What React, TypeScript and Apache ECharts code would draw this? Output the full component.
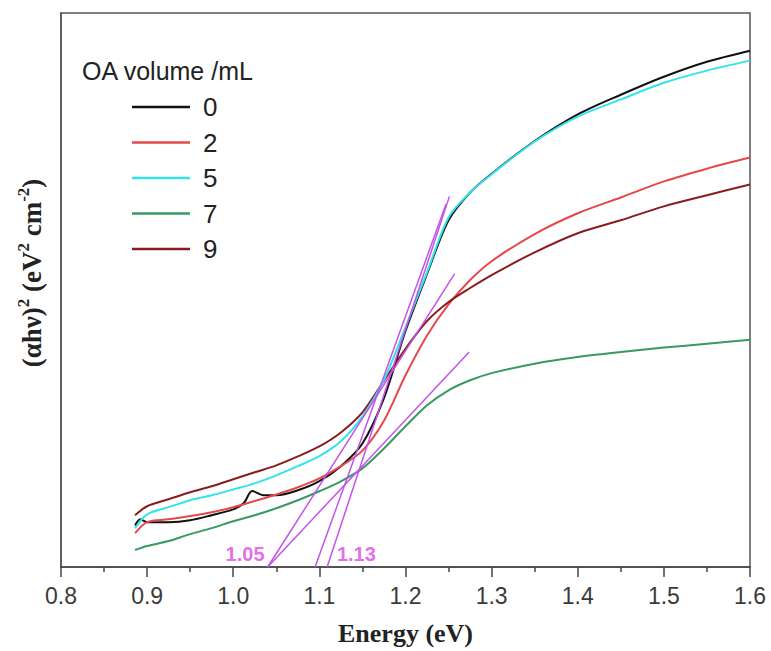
import React, { useEffect, useRef } from "react";
import * as echarts from "echarts";

// Energy grid (eV)
const ENERGY = [0.886, 0.9, 0.925, 0.95, 0.975, 1.0, 1.025, 1.05, 1.075, 1.1, 1.125, 1.15, 1.175, 1.2, 1.225, 1.25, 1.275, 1.3, 1.35, 1.4, 1.45, 1.5, 1.55, 1.6];
const ENERGY_0 = [0.886, 0.892, 0.9, 0.925, 0.95, 0.975, 1.0, 1.012, 1.022, 1.035, 1.05, 1.075, 1.1, 1.125, 1.15, 1.175, 1.2, 1.225, 1.25, 1.275, 1.3, 1.35, 1.4, 1.45, 1.5, 1.55, 1.6];

// (αhν)^2 values, arbitrary units
const OA_0 = [7.5, 8.6, 8.1, 8.1, 8.45, 9.35, 10.4, 11.5, 13.7, 12.95, 12.95, 13.85, 15.5, 18.2, 22.3, 30.5, 42.6, 52.9, 62.6, 67.6, 71.0, 76.9, 81.7, 85.25, 88.5, 91.2, 93.2];
const OA_2 = [6.1, 8.1, 8.6, 9.2, 9.9, 10.8, 11.9, 13.1, 14.4, 16.0, 18.2, 21.0, 26.4, 34.6, 41.8, 47.4, 51.8, 55.2, 60.1, 63.85, 66.7, 69.6, 71.9, 73.9];
const OA_5 = [7.0, 9.5, 10.8, 12.05, 12.95, 14.0, 15.1, 16.55, 18.2, 20.0, 22.7, 27.2, 33.8, 43.3, 53.2, 63.1, 67.6, 70.9, 76.8, 81.3, 84.4, 87.4, 89.6, 91.4];
const OA_7 = [3.06, 3.78, 4.68, 5.94, 7.01, 8.27, 9.35, 10.61, 12.05, 13.67, 15.47, 17.81, 21.4, 25.4, 29.2, 31.9, 33.7, 35.0, 36.7, 37.9, 38.8, 39.6, 40.3, 41.0];
const OA_9 = [9.35, 10.97, 12.23, 13.49, 14.57, 15.83, 17.09, 18.35, 19.96, 21.76, 24.28, 27.9, 33.63, 39.4, 44.4, 47.84, 50.36, 52.7, 56.8, 60.25, 62.6, 65.1, 67.1, 69.06];

// Tangent (Tauc) lines: [E start, y start, E end, y end]
const TANGENTS = [
  [1.095, 0, 1.247, 65.5],
  [1.109, 0, 1.251, 66.9],
  [1.04, 0, 1.257, 52.9],
  [1.04, 0, 1.274, 38.8],
];
const GAP_LABELS = [
  { text: "1.05", e: 1.0137, y: 2.4 },
  { text: "1.13", e: 1.143, y: 2.4 },
];

const X_TICKS = [0.8, 0.9, 1.0, 1.1, 1.2, 1.3, 1.4, 1.5, 1.6];
const LEGEND_NAMES = ["0", "2", "5", "7", "9"];

const COLORS: Record<string, string> = {
  "0": "#111111",
  "2": "#e4484b",
  "5": "#33e3ea",
  "7": "#379a63",
  "9": "#8a1c1e",
};

const SANS = '"Liberation Sans", Arial, sans-serif';
const SERIF = '"Liberation Serif", "Times New Roman", serif';

const zip = (xs: number[], ys: number[]) => xs.map((x, i) => [x, ys[i]]);

export default function App() {
  const ref = useRef<HTMLDivElement>(null);

  useEffect(() => {
    if (!ref.current) return;
    const chart = echarts.init(ref.current, undefined, { renderer: "svg" });

    const dataSeries = [
      { name: "0", data: zip(ENERGY_0, OA_0) },
      { name: "2", data: zip(ENERGY, OA_2) },
      { name: "9", data: zip(ENERGY, OA_9) },
      { name: "7", data: zip(ENERGY, OA_7) },
      { name: "5", data: zip(ENERGY, OA_5) },
    ].map((s) => ({
      type: "line",
      name: s.name,
      data: s.data,
      symbol: "none",
      smooth: 0.3,
      lineStyle: { color: COLORS[s.name], width: 2 },
      itemStyle: { color: COLORS[s.name] },
      z: 2,
    }));

    const tangentSeries = TANGENTS.map((t, i) => ({
      type: "line",
      name: "tangent" + i,
      data: [
        [t[0], t[1]],
        [t[2], t[3]],
      ],
      symbol: "none",
      lineStyle: { color: "#c452ec", width: 1.5 },
      z: 3,
      silent: true,
    }));

    const labelSeries = {
      type: "scatter",
      name: "gaps",
      symbolSize: 0,
      data: GAP_LABELS.map((g) => ({ value: [g.e, g.y], name: g.text })),
      label: {
        show: true,
        position: "inside",
        formatter: (p: any) => p.name,
        color: "#e046e0",
        fontSize: 20,
        fontWeight: "bold",
        fontFamily: SANS,
      },
      z: 4,
      silent: true,
    };

    chart.setOption({
      animation: false,
      backgroundColor: "#ffffff",
      grid: {
        left: 61,
        right: 21,
        top: 13,
        bottom: 82,
        show: true,
        borderColor: "#555555",
        borderWidth: 1.5,
        containLabel: false,
      },
      legend: {
        data: LEGEND_NAMES,
        orient: "vertical",
        left: 132,
        top: 94,
        padding: 0,
        icon: "rect",
        itemWidth: 58,
        itemHeight: 2.5,
        itemGap: 9.5,
        textStyle: {
          fontSize: 26,
          lineHeight: 26,
          color: "#222222",
          fontFamily: SANS,
          padding: [0, 0, 0, 8],
        },
        selectedMode: false,
      },
      graphic: [
        {
          type: "text",
          left: 82,
          top: 58,
          style: {
            text: "OA volume /mL",
            fontSize: 25,
            fill: "#222222",
            fontFamily: SANS,
          },
        },
        {
          type: "text",
          x: 30,
          y: 273,
          rotation: Math.PI / 2,
          style: {
            text: "{b|(αhν)}{s|2}{b| (eV}{s|2}{b| cm}{s|-2}{b|)}",
            align: "center",
            verticalAlign: "middle",
            fill: "#222222",
            rich: {
              b: { fontSize: 27, fontWeight: "bold", fontFamily: SERIF, fill: "#222222", lineHeight: 30, verticalAlign: "bottom" },
              s: { fontSize: 17, fontWeight: "bold", fontFamily: SERIF, fill: "#222222", lineHeight: 30, verticalAlign: "top" },
            },
          },
        },
      ],
      xAxis: {
        type: "value",
        min: X_TICKS[0],
        max: X_TICKS[X_TICKS.length - 1],
        interval: 0.1,
        name: "Energy (eV)",
        nameLocation: "middle",
        nameGap: 53,
        nameTextStyle: {
          fontSize: 26,
          fontWeight: "bold",
          color: "#222222",
          fontFamily: SERIF,
        },
        axisLine: { show: true, lineStyle: { color: "#444444", width: 1.5 } },
        axisTick: { show: true, length: 10, inside: false, lineStyle: { color: "#444444", width: 1.5 } },
        minorTick: { show: true, splitNumber: 2, length: 5, lineStyle: { color: "#444444", width: 1.5 } },
        axisLabel: {
          fontSize: 23,
          color: "#3a3a3a",
          margin: 17,
          fontFamily: SANS,
          formatter: (v: number) => v.toFixed(1),
        },
        splitLine: { show: false },
      },
      yAxis: {
        type: "value",
        min: 0,
        max: 100,
        axisLine: { show: true, lineStyle: { color: "#555555", width: 1.5 } },
        axisTick: { show: false },
        axisLabel: { show: false },
        splitLine: { show: false },
      },
      series: [...dataSeries, ...tangentSeries, labelSeries],
    });

    return () => chart.dispose();
  }, []);

  return <div ref={ref} style={{ width: 771, height: 651, position: "absolute", left: 0, top: 0 }} />;
}
